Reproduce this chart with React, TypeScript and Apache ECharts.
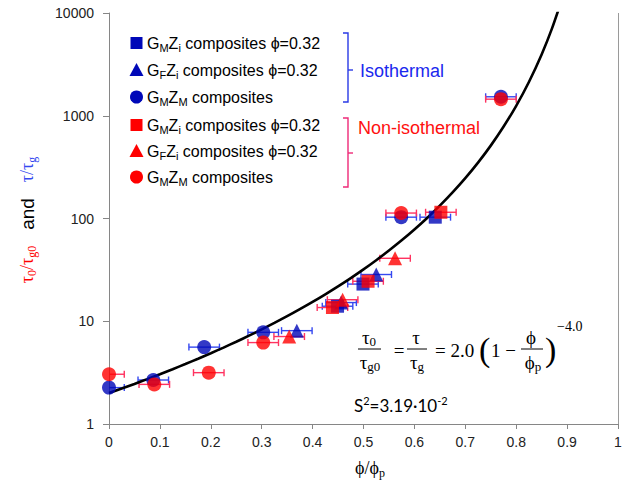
import React, { useEffect, useRef } from "react";
import * as echarts from "echarts";

// ---- data (phi/phi_p, tau ratio) ----
const isoSquares = [[0.449, 14.0], [0.499, 23.0], [0.641, 103]];
const isoTriangles = [[0.369, 8.1], [0.456, 15.2], [0.525, 28.5]];
const isoCircles = [[0, 2.26], [0.087, 2.68], [0.187, 5.6], [0.303, 7.8], [0.574, 103], [0.77, 1530]];
const nonSquares = [[0.439, 13.6], [0.509, 24.5], [0.652, 115]];
const nonTriangles = [[0.354, 7.1], [0.459, 16.2], [0.562, 41]];
const nonCircles = [[0, 3.05], [0.089, 2.43], [0.196, 3.16], [0.303, 6.2], [0.574, 113], [0.77, 1450]];
const xErr = 0.03;

// model curve  2.0(1-phi/phi_p)^-4.0 tabulated
const curveX = [0, 0.025, 0.05, 0.075, 0.1, 0.125, 0.15, 0.175, 0.2, 0.225, 0.25, 0.275, 0.3, 0.325, 0.35, 0.375, 0.4, 0.425, 0.45, 0.475, 0.5, 0.525, 0.55, 0.575, 0.6, 0.625, 0.65, 0.675, 0.7, 0.725, 0.75, 0.775, 0.8, 0.825, 0.85, 0.87, 0.89];
const curveY = [2, 2.213, 2.455, 2.732, 3.048, 3.412, 3.831, 4.318, 4.883, 5.544, 6.321, 7.239, 8.33, 9.634, 11.2, 13.11, 15.43, 18.3, 21.86, 26.33, 32.0, 39.29, 48.77, 61.3, 78.13, 101.1, 133.3, 179.3, 246.9, 349.7, 512, 780.4, 1250, 2132, 3951, 7003, 13660];

const yTicks = [1, 10, 100, 1000, 10000];

const BLUE = "#0008b8";
const RED = "#ff0000";
const BLUE_BAR = "#3548f0";
const RED_BAR = "#ff3360";
const SANS = "Liberation Sans, Arial, sans-serif";
const SERIF = "Liberation Serif, DejaVu Serif, serif";

function errorBars(data: number[][], color: string, z: number) {
  return {
    type: "custom",
    data: data.map((d) => [d[0], d[1], xErr]),
    encode: { x: 0, y: 1 },
    silent: true,
    z,
    renderItem: (params: any, api: any) => {
      const x = api.value(0);
      const y = api.value(1);
      const e = api.value(2);
      const c = api.coord([x, y]);
      const l = api.coord([x - e, y]);
      const r = api.coord([x + e, y]);
      const minX = params.coordSys.x;
      const cap = 3.5;
      const st = { stroke: color, lineWidth: 1.4 };
      const lx = Math.max(l[0], minX);
      const children: any[] = [
        { type: "line", shape: { x1: lx, y1: c[1], x2: r[0], y2: c[1] }, style: st },
        { type: "line", shape: { x1: r[0], y1: c[1] - cap, x2: r[0], y2: c[1] + cap }, style: st },
      ];
      if (l[0] >= minX) {
        children.push({ type: "line", shape: { x1: l[0], y1: c[1] - cap, x2: l[0], y2: c[1] + cap }, style: st });
      }
      return { type: "group", children };
    },
  };
}

function scatter(name: string, data: number[][], symbol: string, color: string, size: number, z: number) {
  return {
    name,
    type: "scatter",
    data,
    symbol,
    symbolSize: size,
    itemStyle: { color },
    z,
  };
}

const subRich = (fs: number, color: string, family: string) => ({
  t: { fontSize: fs, lineHeight: fs + 4, fill: color, fontFamily: family },
  s: { fontSize: Math.round(fs * 0.66), lineHeight: 8, verticalAlign: "bottom", fill: color, fontFamily: family },
});

export default function App() {
  const ref = useRef<HTMLDivElement>(null);
  useEffect(() => {
    document.body.style.margin = "0";
    const chart = echarts.init(ref.current!, undefined, { renderer: "svg" });

    const legendRows = [
      { y: 43, sym: "rect", color: BLUE, text: "{t|G}{s|M}{t|Z}{s|i}{t| composites ϕ=0.32}" },
      { y: 70, sym: "tri", color: BLUE, text: "{t|G}{s|F}{t|Z}{s|i}{t| composites ϕ=0.32}" },
      { y: 97, sym: "circ", color: BLUE, text: "{t|G}{s|M}{t|Z}{s|M}{t| composites}" },
      { y: 125, sym: "rect", color: RED, text: "{t|G}{s|M}{t|Z}{s|i}{t| composites ϕ=0.32}" },
      { y: 151, sym: "tri", color: RED, text: "{t|G}{s|F}{t|Z}{s|i}{t| composites ϕ=0.32}" },
      { y: 177, sym: "circ", color: RED, text: "{t|G}{s|M}{t|Z}{s|M}{t| composites}" },
    ];
    const mx = 136.5;
    const legendGraphics: any[] = [];
    legendRows.forEach((r) => {
      if (r.sym === "rect") {
        legendGraphics.push({ type: "rect", shape: { x: mx - 6, y: r.y - 6, width: 12, height: 12 }, style: { fill: r.color } });
      } else if (r.sym === "tri") {
        legendGraphics.push({ type: "polygon", shape: { points: [[mx, r.y - 7], [mx + 7, r.y + 6], [mx - 7, r.y + 6]] }, style: { fill: r.color } });
      } else {
        legendGraphics.push({ type: "circle", shape: { cx: mx, cy: r.y, r: 6.5 }, style: { fill: r.color } });
      }
      legendGraphics.push({
        type: "text",
        x: 147,
        y: r.y,
        style: { text: r.text, rich: subRich(16, "#000", SANS), verticalAlign: "middle", align: "left" },
      });
    });

    const bracket = (top: number, bot: number, mid: number, color: string) => {
      const st = { stroke: color, lineWidth: 1.4, fill: "none" };
      return [
        { type: "polyline", shape: { points: [[343, top], [348, top], [348, bot], [343, bot]] }, style: st },
        { type: "line", shape: { x1: 348, y1: mid, x2: 353, y2: mid }, style: st },
      ];
    };

    const eqRich = {
      m: { fontSize: 19, lineHeight: 22, fontFamily: SERIF, fill: "#000" },
      s: { fontSize: 13, lineHeight: 9, verticalAlign: "bottom", fontFamily: SERIF, fill: "#000" },
    };
    const eqText = (x: number, y: number, text: string, align = "center") => ({
      type: "text",
      x,
      y,
      style: { text, rich: eqRich, align, verticalAlign: "middle" },
    });
    const fracLine = (x1: number, x2: number) => ({
      type: "line",
      shape: { x1, y1: 349, x2, y2: 349 },
      style: { stroke: "#000", lineWidth: 1 },
    });

    const equation: any[] = [
      eqText(369, 337, "{m|τ}{s|0}"),
      fracLine(358, 381),
      eqText(370, 362, "{m|τ}{s|g0}"),
      eqText(399, 350, "{m|=}"),
      eqText(416, 337, "{m|τ}"),
      fracLine(407, 427),
      eqText(417, 362, "{m|τ}{s|g}"),
      eqText(435, 350, "{m|= 2.0}", "left"),
      { type: "text", x: 479, y: 349, style: { text: "(", font: "34px " + SERIF, fill: "#000", align: "left", verticalAlign: "middle" } },
      eqText(491, 350, "{m|1 −}", "left"),
      eqText(531, 337, "{m|ϕ}"),
      fracLine(521, 543),
      eqText(533, 362, "{m|ϕ}{s|p}"),
      { type: "text", x: 545, y: 349, style: { text: ")", font: "34px " + SERIF, fill: "#000", align: "left", verticalAlign: "middle" } },
      { type: "text", x: 557, y: 326, style: { text: "−4.0", font: "14px " + SERIF, fill: "#000", align: "left", verticalAlign: "middle" } },
    ];

    const s2 = {
      type: "text",
      x: 354,
      y: 405,
      style: {
        text: "{t|S}{p|2}{t|=3.19·10}{p|-2}",
        rich: {
          t: { fontSize: 17, lineHeight: 20, fontFamily: "Lato, Open Sans, sans-serif", fill: "#000" },
          p: { fontSize: 11, lineHeight: 8, verticalAlign: "top", fontFamily: "Lato, Open Sans, sans-serif", fill: "#000" },
        },
        align: "left",
        verticalAlign: "middle",
      },
    };

    const yTitleRich = {
      r: { fontSize: 18, lineHeight: 22, fontFamily: SERIF, fill: RED },
      rs: { fontSize: 12, lineHeight: 8, verticalAlign: "bottom", fontFamily: SERIF, fill: RED },
      k: { fontSize: 19, lineHeight: 22, fontFamily: SANS, fill: "#000" },
      b: { fontSize: 18, lineHeight: 22, fontFamily: SERIF, fill: BLUE_BAR },
      bs: { fontSize: 12, lineHeight: 8, verticalAlign: "bottom", fontFamily: SERIF, fill: BLUE_BAR },
    };

    const option: any = {
      animation: false,
      grid: { left: 109, right: 11, top: 13, bottom: 74, containLabel: false },
      xAxis: {
        type: "value",
        min: 0,
        max: 1,
        interval: 0.1,
        splitLine: { show: false },
        axisLine: { lineStyle: { color: "#868686", width: 1 } },
        axisTick: { show: true, length: 5, lineStyle: { color: "#868686" } },
        axisLabel: {
          margin: 11,
          fontSize: 14,
          fontFamily: SANS,
          color: "#222",
          formatter: (v: number) => String(Number(v.toFixed(1))),
        },
      },
      yAxis: {
        type: "log",
        logBase: 10,
        min: yTicks[0],
        max: yTicks[yTicks.length - 1],
        splitLine: { show: false },
        axisLine: { show: true, onZero: false, lineStyle: { color: "#868686", width: 1 } },
        axisTick: { show: true, length: 6, lineStyle: { color: "#868686" } },
        minorTick: { show: false },
        axisLabel: { margin: 15, fontSize: 14, fontFamily: SANS, color: "#222", formatter: (v: number) => String(Math.round(v)) },
      },
      series: [
        errorBars(isoSquares, BLUE_BAR, 2),
        errorBars(isoTriangles, BLUE_BAR, 2),
        errorBars(isoCircles, BLUE_BAR, 2),
        errorBars(nonSquares, RED_BAR, 2),
        errorBars(nonTriangles, RED_BAR, 2),
        errorBars(nonCircles, RED_BAR, 2),
        {
          type: "line",
          data: curveX.map((x, i) => [x, curveY[i]]),
          showSymbol: false,
          smooth: 0.3,
          lineStyle: { color: "#000", width: 2.6 },
          z: 3,
          silent: true,
        },
        scatter("iso GMZi", isoSquares, "rect", BLUE, 13, 4),
        scatter("iso GFZi", isoTriangles, "triangle", BLUE, 14, 4),
        scatter("iso GMZM", isoCircles, "circle", BLUE, 14, 4),
        scatter("non GMZi", nonSquares, "rect", RED, 13, 5),
        scatter("non GFZi", nonTriangles, "triangle", RED, 14, 5),
        scatter("non GMZM", nonCircles, "circle", RED, 14, 5),
      ],
      graphic: [
        { type: "line", shape: { x1: 618.5, y1: 13, x2: 618.5, y2: 424 }, style: { stroke: "#9a9a9a", lineWidth: 1 } },
        ...legendGraphics,
        ...bracket(33, 102, 70, "#2a3ae6"),
        ...bracket(118, 187, 153, "#ee2a78"),
        { type: "text", x: 360, y: 71, style: { text: "Isothermal", font: "18px " + SANS, fill: "#1a28ee", align: "left", verticalAlign: "middle" } },
        { type: "text", x: 358, y: 128, style: { text: "Non-isothermal", font: "18px " + SANS, fill: "#ff1010", align: "left", verticalAlign: "middle" } },
        ...equation,
        s2,
        {
          type: "text",
          x: 370,
          y: 468,
          style: { text: "{m|ϕ/ϕ}{s|p}", rich: { m: { fontSize: 18, lineHeight: 22, fontFamily: SERIF, fill: "#000" }, s: { fontSize: 12, lineHeight: 8, verticalAlign: "bottom", fontFamily: SERIF, fill: "#000" } }, align: "center", verticalAlign: "middle" },
        },
        {
          type: "text",
          x: 27,
          y: 220,
          rotation: Math.PI / 2,
          style: { text: "{r|τ}{rs|0}{r|/τ}{rs|g0}{k|   and   }{b|τ/τ}{bs|g}", rich: yTitleRich, align: "center", verticalAlign: "middle" },
        },
      ],
    };
    chart.setOption(option);
    return () => chart.dispose();
  }, []);
  return <div ref={ref} style={{ width: 629, height: 498 }} />;
}
